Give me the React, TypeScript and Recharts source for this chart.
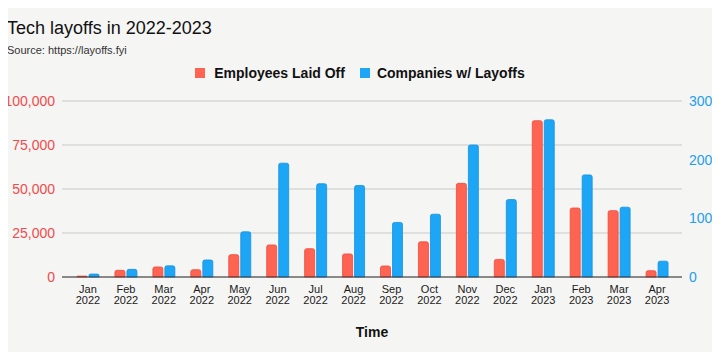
import { BarChart, Bar, XAxis, YAxis, CartesianGrid, Legend } from 'recharts'

// monthly figures
const months = [
    'Jan 2022', 'Feb 2022', 'Mar 2022', 'Apr 2022', 'May 2022', 'Jun 2022', 'Jul 2022', 'Aug 2022',
    'Sep 2022', 'Oct 2022', 'Nov 2022', 'Dec 2022', 'Jan 2023', 'Feb 2023', 'Mar 2023', 'Apr 2023',
]
const employeesLaidOff = [510, 3800, 5700, 4150, 12700, 18200, 16100, 13100, 6250, 20000, 53200, 10000, 88800, 39200, 37700, 3600]
const companiesWithLayoffs = [5, 13, 19, 29, 77, 194, 159, 156, 93, 107, 225, 132, 268, 174, 119, 27]

const leftTicks = [0, 25000, 50000, 75000, 100000]
const rightTicks = [0, 100, 200, 300]

const data = months.map((month, i) => ({
    month,
    employees: employeesLaidOff[i],
    companies: companiesWithLayoffs[i],
}))

const RED = '#ff6352'
const BLUE = '#1ea6f6'
const FONT = '"Liberation Sans", Arial, Helvetica, sans-serif'

const MonthTick = (props: any) => {
    const { x, y, payload } = props
    const [m, yr] = String(payload.value).split(' ')
    return (
        <text x={x} y={y} textAnchor="middle" fill="#1a1a1a" fontSize={11} fontFamily={FONT}>
            <tspan x={x} dy={14}>{m}</tspan>
            <tspan x={x} dy={10.5}>{yr}</tspan>
        </text>
    )
}

const LegendContent = () => (
    <div style={{ display: 'flex', justifyContent: 'center', alignItems: 'center', fontFamily: FONT, fontWeight: 'bold', fontSize: 14, color: '#111' }}>
        <span style={{ width: 10, height: 10, background: RED, display: 'inline-block', marginRight: 9 }} />
        <span style={{ marginRight: 15 }}>Employees Laid Off</span>
        <span style={{ width: 10, height: 10, background: BLUE, display: 'inline-block', marginRight: 7 }} />
        <span>Companies w/ Layoffs</span>
    </div>
)

export default function App() {
    return (
        <div style={{ position: 'relative', width: 720, height: 360, margin: -8, background: '#f5f5f4', fontFamily: FONT }}>
            <div style={{ position: 'absolute', left: 7, top: 18, fontSize: 18, color: '#111' }}>Tech layoffs in 2022-2023</div>
            <div style={{ position: 'absolute', left: 7, top: 44, fontSize: 11, color: '#333' }}>Source: https://layoffs.fyi</div>
            <BarChart
                width={720}
                height={360}
                data={data}
                margin={{ top: 101, right: 2, bottom: 23, left: 2 }}
                barSize={10}
                barGap={2}
            >
                <CartesianGrid yAxisId="left" vertical={false} stroke="#c9c9c9" />
                <XAxis
                    dataKey="month"
                    height={60}
                    padding={{ left: 7, right: 6 }}
                    tick={<MonthTick />}
                    tickLine={false}
                    tickSize={0}
                    axisLine={{ stroke: '#333' }}
                    interval={0}
                    label={{ value: 'Time', position: 'insideBottom', offset: 0, fill: '#111', fontSize: 14, fontWeight: 'bold', fontFamily: FONT }}
                />
                <YAxis
                    yAxisId="left"
                    orientation="left"
                    width={60}
                    domain={[0, 100000]}
                    ticks={leftTicks}
                    tickFormatter={(v: number) => v.toLocaleString('en-US')}
                    axisLine={false}
                    tickLine={false}
                    tickSize={0}
                    tickMargin={7}
                    tick={{ fill: '#f24a4a', fontSize: 14, fontFamily: FONT }}
                />
                <YAxis
                    yAxisId="right"
                    orientation="right"
                    width={36}
                    domain={[0, 300]}
                    ticks={rightTicks}
                    axisLine={false}
                    tickLine={false}
                    tickSize={0}
                    tickMargin={7}
                    tick={{ fill: '#239ef0', fontSize: 14, fontFamily: FONT }}
                />
                <Legend
                    layout="horizontal"
                    verticalAlign="middle"
                    content={<LegendContent />}
                    wrapperStyle={{ top: 65, left: 0, width: 720 }}
                />
                <Bar yAxisId="left" dataKey="employees" name="Employees Laid Off" fill={RED} stroke="#e84c3c" strokeWidth={0.8} radius={[2, 2, 0, 0]} isAnimationActive={false} />
                <Bar yAxisId="right" dataKey="companies" name="Companies w/ Layoffs" fill={BLUE} stroke="#1590e0" strokeWidth={0.8} radius={[2, 2, 0, 0]} isAnimationActive={false} />
            </BarChart>
        </div>
    )
}
